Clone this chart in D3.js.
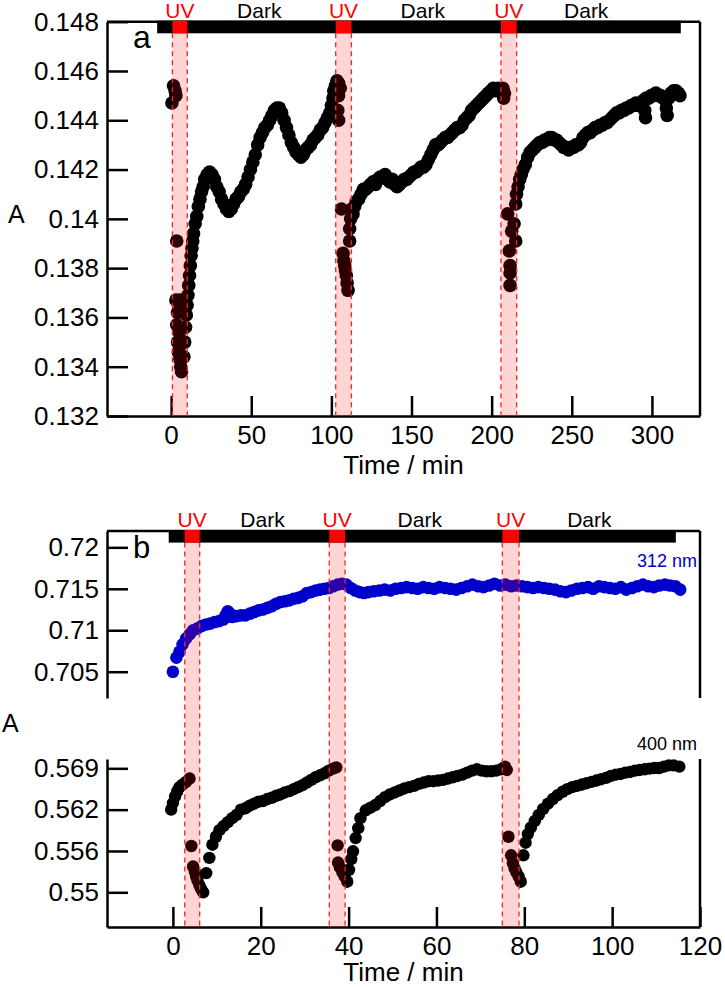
<!DOCTYPE html>
<html>
<head>
<meta charset="utf-8">
<script src="https://cdnjs.cloudflare.com/ajax/libs/d3/7.8.5/d3.min.js"></script>
<style>
  body { margin: 0; background: #fff; }
  svg { display: block; font-family: "Liberation Sans", Arial, sans-serif; }
</style>
</head>
<body>
<script>
// ---- panel a : absorbance vs time ----
var aTicksY = [0.132, 0.134, 0.136, 0.138, 0.14, 0.142, 0.144, 0.146, 0.148];
var aTicksX = [0, 50, 100, 150, 200, 250, 300];
var aUV = [[0.8, 10.1], [102.7, 112.5], [205.8, 215.6]];
var aBar = [-8.7, 318];
var aDark = [55, 157, 259];
var aData = [
  [0.5,0.1447],[1.5,0.1454],[2.5,0.1452],[3,0.1450],
  [3.5,0.1391],[3,0.1367],[5.5,0.1367],[4,0.1362],[3.5,0.1357],[5,0.1354],[4,0.1350],[6,0.1349],
  [4.5,0.1346],[5.5,0.1343],[6,0.1340],[6.5,0.1338],
  [8,0.1344],[8.5,0.1350],[9,0.1356],[9.5,0.1361],[10,0.1365],[10.5,0.1369],[11,0.1373],[11.5,0.1377],
  [12,0.1381],[12.5,0.1385],[13,0.1388],[13.5,0.1391],[14,0.1394],[15,0.1398],[16,0.1401],[17,0.1405],
  [18,0.1408],[19,0.1411],[20,0.1413],[21,0.1416],[22.5,0.1418],[24,0.1419],[25.5,0.1418],[27,0.1416],
  [28.5,0.1413],[30,0.1411],[31.5,0.1408],[33,0.1406],[34.5,0.1404],[36,0.1403],[37.5,0.1404],[39,0.1406],
  [40.5,0.1408],[42,0.1409],[43.5,0.1411],[45,0.1412],[46.5,0.1414],[48,0.1417],[49.5,0.1420],[51,0.1423],
  [52.5,0.1426],[54,0.1430],[55.5,0.1433],[57,0.1435],[58.5,0.1437],[60,0.1438],[61.5,0.1440],[63,0.1442],
  [64.5,0.1444],[66,0.1445],[67.5,0.1445],[69,0.1443],[70.5,0.1440],[72,0.1437],[73.5,0.1434],[75,0.1431],
  [76.5,0.1429],[78,0.1427],[79.5,0.1426],[81,0.1425],[82.5,0.1426],[84,0.1428],[85.5,0.1429],[87,0.1430],
  [88.5,0.1432],[90,0.1433],[91.5,0.1434],[93,0.1436],[94.5,0.1437],[96,0.1439],[97.5,0.1441],[99,0.1443],
  [100,0.1446],[101,0.1449],[101.5,0.1452],[102.5,0.1454],[103.5,0.1456],[104.5,0.1455],[105.5,0.1453],
  [104.5,0.1450],[104,0.1444],[104.5,0.1440],
  [106.3,0.1404],[107.3,0.1386],[107.8,0.1383],[108.3,0.1381],[108.8,0.1379],[109.3,0.1377],[109.8,0.1374],
  [110.4,0.1371],[111.4,0.1391],[111.4,0.1396],[112,0.1400],[112.8,0.1404],
  [113.5,0.1402],[114.5,0.1405],[115.5,0.1407],[117,0.1408],[118.5,0.1410],[120,0.1412],[121.5,0.1412],
  [123,0.1413],[124.5,0.1414],[126,0.1415],[127.5,0.1414],[129,0.1416],[130.5,0.1417],[132,0.1417],
  [133.5,0.1418],[135,0.1416],[136.5,0.1415],[138,0.1416],[139.5,0.1414],[141,0.1413],[142.5,0.1414],
  [144,0.1415],[145.5,0.1416],[147,0.1416],[148.5,0.1417],[150,0.1418],[151.5,0.1419],[153,0.1419],
  [154.5,0.1420],[156,0.1421],[157.5,0.1421],[159,0.1422],[160.5,0.1424],[162,0.1426],[163.5,0.1428],
  [165,0.1430],[166.5,0.1430],[168,0.1431],[169.5,0.1432],[171,0.1433],[172.5,0.1433],[174,0.1434],
  [175.5,0.1435],[177,0.1436],[178.5,0.1437],[180,0.1437],[181.5,0.1438],[183,0.1440],[184.5,0.1441],
  [186,0.1442],[187.5,0.1444],[189,0.1445],[190.5,0.1446],[192,0.1447],[193.5,0.1448],[195,0.1449],
  [196.5,0.1450],[198,0.1451],[199.5,0.1452],[201,0.1453],[202.5,0.1452],[204,0.1453],[205.5,0.1452],
  [207,0.1453],[208,0.1451],[207.5,0.1449],
  [210,0.1402],[214,0.1398],[215,0.1391],[211,0.1387],[211.5,0.1381],[211.5,0.1378],[211.5,0.1373],[212.5,0.1395],
  [215,0.1406],[215.5,0.1410],[216.5,0.1413],[217.5,0.1416],[218.5,0.1418],[219.5,0.1420],[221,0.1422],
  [222.5,0.1425],[224,0.1427],[225.5,0.1428],[227,0.1429],[228.5,0.1430],[230,0.1431],[231.5,0.1431],
  [233,0.1432],[234.5,0.1432],[236,0.1433],[237.5,0.1433],[239,0.1432],[240.5,0.1432],[242,0.1431],
  [243.5,0.1430],[245,0.1429],[246.5,0.1429],[248,0.1428],[249.5,0.1429],[251,0.1429],[252.5,0.1430],
  [254,0.1430],[255.5,0.1431],[257,0.1433],[258.5,0.1434],[260,0.1435],[261.5,0.1435],[263,0.1436],
  [264.5,0.1437],[266,0.1437],[267.5,0.1438],[269,0.1438],[270.5,0.1439],[272,0.1439],[273.5,0.1440],
  [275,0.1441],[276.5,0.1442],[278,0.1443],[279.5,0.1443],[281,0.1444],[282.5,0.1444],[284,0.1445],
  [285.5,0.1445],[287,0.1446],[288.5,0.1446],[290,0.1447],[291.5,0.1446],[293,0.1447],[294.5,0.1448],
  [295.5,0.1444],[296,0.1441],[296.5,0.1449],[298,0.1449],[299.5,0.1450],[301,0.1450],[302.5,0.1451],
  [304,0.1450],[305.5,0.1450],[307,0.1449],[308.5,0.1448],[309,0.1445],[309.5,0.1442],[310.5,0.1449],
  [312,0.1451],[313.5,0.1452],[315,0.1452],[316.5,0.1451],[317.5,0.1450]
];

// ---- panel b : 312 nm and 400 nm ----
var bTicksX = [0, 20, 40, 60, 80, 100, 120];
var bTicks312 = [0.705, 0.71, 0.715, 0.72];
var bTicks400 = [0.55, 0.55625, 0.5625, 0.56875];
var bLabels400 = ["0.55", "0.556", "0.562", "0.569"];
var bUV = [[2.7, 6.1], [35.6, 39.2], [75, 78.8]];
var bBar = [-0.95, 114.5];
var bDark = [20.4, 56.2, 94.8];
var b312 = [
  [0,0.7050],[0.8,0.7067],[1.5,0.7074],[2.2,0.7083],[3,0.7090],[3.8,0.7095],[4.6,0.7100],[5.5,0.7102],
  [6.5,0.7105],[7.5,0.7107],[8.5,0.7108],[9.5,0.7110],[10.5,0.7111],[11.5,0.7113],[12,0.7118],[12.5,0.7123],
  [13,0.7120],[13.5,0.7116],[14.5,0.7117],[15.5,0.7118],[16.5,0.7118],[17.5,0.7120],[18.5,0.7122],[19.5,0.7124],
  [20.5,0.7125],[21.5,0.7127],[22.5,0.7129],[23.5,0.7132],[24.5,0.7134],[25.5,0.7135],[26.5,0.7136],[27.5,0.7138],
  [28.5,0.7139],[29.5,0.7141],[30.5,0.7145],[31.5,0.7146],[32.5,0.7148],[33.5,0.7149],[34.5,0.7150],
  [35.5,0.7151],[36.5,0.7153],[37.5,0.7155],[38.5,0.7156],[39.5,0.7155],[40.5,0.7151],[41.5,0.7148],
  [42.5,0.7146],[43.5,0.7145],[44.5,0.7146],[45.7,0.7147],[47,0.7148],[48.2,0.7149],[49.5,0.7148],
  [50.7,0.7150],[52,0.7151],[53.2,0.7152],[54.5,0.7151],[55.7,0.7150],[57,0.7152],[58.2,0.7151],
  [59.5,0.7150],[60.7,0.7152],[62,0.7151],[63.2,0.7150],[64.5,0.7149],[65.7,0.7151],[67,0.7153],
  [68.2,0.7155],[69.5,0.7153],[70.7,0.7152],[72,0.7154],[73.2,0.7156],[74.5,0.7154],[75.7,0.7155],
  [77,0.7153],[78.2,0.7154],[79.5,0.7153],[80.7,0.7152],[82,0.7151],[83.2,0.7152],[84.5,0.7151],
  [85.7,0.7150],[87,0.7149],[88.2,0.7147],[89.5,0.7146],[90.7,0.7148],[92,0.7150],[93.2,0.7151],
  [94.5,0.7152],[95.7,0.7150],[97,0.7153],[98.2,0.7152],[99.5,0.7151],[100.7,0.7150],[102,0.7152],
  [103.2,0.7149],[104.5,0.7151],[105.7,0.7153],[107,0.7155],[108.2,0.7153],[109.5,0.7152],[110.7,0.7154],
  [112,0.7155],[113.2,0.7154],[114.4,0.7153],[115.5,0.7149]
];
var b400 = [
  [-0.4,0.5625],[0,0.5635],[0.5,0.5645],[1,0.5653],[1.5,0.5659],[2.2,0.5663],[3,0.5667],[3.8,0.5672],
  [4.2,0.5570],[4.6,0.5539],[5,0.5531],[5.3,0.5524],[5.6,0.5518],[6,0.5511],[6.4,0.5505],[6.9,0.5500],
  [7.6,0.5529],[8.3,0.5552],[9,0.5572],[9.8,0.5584],[10.6,0.5594],[11.5,0.5600],[12.5,0.5606],[13.5,0.5612],
  [14.5,0.5617],[15.5,0.5625],[16.5,0.5627],[17.5,0.5631],[18.5,0.5634],[19.5,0.5637],[20.5,0.5638],
  [21.5,0.5641],[22.5,0.5643],[23.5,0.5646],[24.5,0.5648],[25.5,0.5651],[26.5,0.5653],[27.5,0.5656],
  [28.5,0.5659],[29.5,0.5662],[30.5,0.5666],[31.5,0.5670],[32.5,0.5674],[33.5,0.5677],[34.5,0.5680],
  [35.5,0.5684],[36.5,0.5687],[37.2,0.5689],
  [37.5,0.5571],[37.6,0.5545],[38,0.5538],[38.6,0.5530],[39.1,0.5524],[39.7,0.5516],
  [40.1,0.5534],[40.6,0.5550],[41,0.5562],[41.6,0.5582],[42.2,0.5597],[42.7,0.5612],[43.9,0.5624],
  [45,0.5628],[46.1,0.5632],[47.2,0.5638],[48.3,0.5644],[49.4,0.5648],[50.5,0.5651],[51.6,0.5654],
  [52.7,0.5657],[53.8,0.5659],[54.9,0.5661],[56,0.5664],[57.1,0.5666],[58.2,0.5668],[59.3,0.5668],
  [60.4,0.5669],[61.5,0.5670],[62.6,0.5672],[63.7,0.5674],[64.8,0.5676],[65.9,0.5678],[67,0.5681],
  [68.1,0.5684],[69.2,0.5686],[70.3,0.5684],[71.4,0.5683],[72.5,0.5683],[73.6,0.5684],[74.7,0.5686],
  [75.6,0.5690],[76,0.5685],
  [76.4,0.5584],[77,0.5556],[77.4,0.5544],[77.8,0.5536],[78.2,0.5530],[78.7,0.5524],[79.2,0.5516],
  [79.8,0.5556],[80.3,0.5575],[80.8,0.5588],[81.5,0.5598],[82.4,0.5608],[83.3,0.5617],[84.3,0.5626],
  [85.4,0.5634],[86.5,0.5641],[87.6,0.5647],[88.7,0.5652],[89.8,0.5656],[90.9,0.5659],[92,0.5661],
  [93.1,0.5663],[94.2,0.5665],[95.3,0.5667],[96.4,0.5669],[97.5,0.5671],[98.6,0.5673],[99.7,0.5676],
  [100.8,0.5678],[101.9,0.5679],[103,0.5681],[104.1,0.5682],[105.2,0.5684],[106.3,0.5685],[107.4,0.5686],
  [108.5,0.5687],[109.6,0.5688],[110.7,0.5688],[111.8,0.5690],[112.9,0.5692],[114,0.5692],[115.3,0.5690]
];

var svg = d3.select("body").append("svg").attr("width", 725).attr("height", 987);

var L = 107, R = 700, LW = 2.5;

// scales
var xA = d3.scaleLinear().domain([-40, 330]).range([L, R]);
var yA = d3.scaleLinear().domain([0.132, 0.148]).range([416, 21.7]);
var xB = d3.scaleLinear().domain([-15, 120]).range([L, R]);
var yB312 = d3.scaleLinear().domain([0.70183, 0.72197]).range([698, 531]);
var yB400 = d3.scaleLinear().domain([0.54475, 0.57016]).range([927, 759]);

function styleAxis(g) {
  g.attr("font-size", 26).attr("font-family", null);
  g.selectAll("path, line").attr("stroke", "#000").attr("stroke-width", LW);
  g.selectAll("text").attr("fill", "#000");
}

function line(x1, y1, x2, y2) {
  svg.append("line").attr("x1", x1).attr("y1", y1).attr("x2", x2).attr("y2", y2)
    .attr("stroke", "#000").attr("stroke-width", LW);
}

var fmt = function (d) { return String(+d.toFixed(3)); };

// ---- panel a axes ----
svg.append("g").call(d3.axisLeft(yA).tickValues(aTicksY).tickFormat(fmt)
  .tickSizeInner(-21).tickSizeOuter(0).tickPadding(8))
  .attr("transform", "translate(" + L + ",0)").call(styleAxis);
svg.append("g").call(d3.axisBottom(xA).tickValues(aTicksX)
  .tickSizeInner(-20).tickSizeOuter(0).tickPadding(10))
  .attr("transform", "translate(0," + yA.range()[0] + ")").call(styleAxis);
line(L, yA.range()[1], R, yA.range()[1]);
line(R, yA.range()[1], R, yA.range()[0]);

// ---- panel b axes ----
svg.append("g").call(d3.axisLeft(yB312).tickValues(bTicks312).tickFormat(fmt)
  .tickSizeInner(-21).tickSizeOuter(0).tickPadding(8))
  .attr("transform", "translate(" + L + ",0)").call(styleAxis);
svg.append("g").call(d3.axisLeft(yB400).tickValues(bTicks400)
  .tickFormat(function (d, i) { return bLabels400[i]; })
  .tickSizeInner(-21).tickSizeOuter(0).tickPadding(8))
  .attr("transform", "translate(" + L + ",0)").call(styleAxis);
svg.append("g").call(d3.axisBottom(xB).tickValues(bTicksX)
  .tickSizeInner(-20).tickSizeOuter(0).tickPadding(10))
  .attr("transform", "translate(0," + yB400.range()[0] + ")").call(styleAxis);
line(L, yB312.range()[1], R, yB312.range()[1]);
line(R, yB312.range()[1], R, yB312.range()[0]);
line(R, yB400.range()[1], R, yB400.range()[0]);

// ---- data points ----
svg.append("g").selectAll("circle").data(aData).enter().append("circle")
  .attr("cx", function (d) { return xA(d[0]); })
  .attr("cy", function (d) { return yA(d[1]); })
  .attr("r", 6.8).attr("fill", "#000");
svg.append("g").selectAll("circle").data(b312).enter().append("circle")
  .attr("cx", function (d) { return xB(d[0]); })
  .attr("cy", function (d) { return yB312(d[1]); })
  .attr("r", 6.3).attr("fill", "#0000cc");
svg.append("g").selectAll("circle").data(b400).enter().append("circle")
  .attr("cx", function (d) { return xB(d[0]); })
  .attr("cy", function (d) { return yB400(d[1]); })
  .attr("r", 6.2).attr("fill", "#000");

// ---- UV bands, top bar and labels ----
function bands(x, uv, bar, dark, top, bottom, labelY) {
  var barH = 11.6;
  var g = svg.append("g");
  g.selectAll("rect.band").data(uv).enter().append("rect")
    .attr("x", function (d) { return x(d[0]); })
    .attr("width", function (d) { return x(d[1]) - x(d[0]); })
    .attr("y", top + barH).attr("height", bottom - top - barH)
    .attr("fill", "#ff0000").attr("fill-opacity", 0.17);
  uv.forEach(function (d) {
    d.forEach(function (v) {
      g.append("line").attr("x1", x(v)).attr("x2", x(v))
        .attr("y1", top + barH).attr("y2", bottom)
        .attr("stroke", "#ff2020").attr("stroke-width", 1.3)
        .attr("stroke-dasharray", "5,4");
    });
  });
  g.append("rect").attr("x", x(bar[0])).attr("width", x(bar[1]) - x(bar[0]))
    .attr("y", top - 1).attr("height", barH + 1).attr("fill", "#000");
  g.selectAll("rect.uv").data(uv).enter().append("rect")
    .attr("x", function (d) { return x(d[0]); })
    .attr("width", function (d) { return x(d[1]) - x(d[0]); })
    .attr("y", top - 1).attr("height", barH + 1).attr("fill", "#ff0000");
  g.selectAll("text.uv").data(uv).enter().append("text")
    .attr("x", function (d) { return x((d[0] + d[1]) / 2); })
    .attr("y", labelY).attr("text-anchor", "middle")
    .attr("font-size", 21).attr("fill", "#ff0000").text("UV");
  g.selectAll("text.dark").data(dark).enter().append("text")
    .attr("x", function (d) { return x(d); })
    .attr("y", labelY).attr("text-anchor", "middle")
    .attr("font-size", 21).attr("fill", "#000").text("Dark");
}
bands(xA, aUV, aBar, aDark, yA.range()[1], yA.range()[0], 18);
bands(xB, bUV, bBar, bDark, yB312.range()[1], yB400.range()[0], 527);

// ---- text ----
function text(x, y, s, size, color, anchor) {
  svg.append("text").attr("x", x).attr("y", y).attr("font-size", size)
    .attr("fill", color || "#000").attr("text-anchor", anchor || "start").text(s);
}
text(133, 48, "a", 32);
text(133, 558, "b", 31);
text(8, 223, "A", 25);
text(2, 732, "A", 25);
text((L + R) / 2, yA.range()[0] + 58, "Time / min", 26, "#000", "middle");
text((L + R) / 2, yB400.range()[0] + 54, "Time / min", 26, "#000", "middle");
text(697, 567, "312 nm", 18, "#0000cc", "end");
text(697, 750, "400 nm", 18, "#000", "end");
</script>
</body>
</html>
